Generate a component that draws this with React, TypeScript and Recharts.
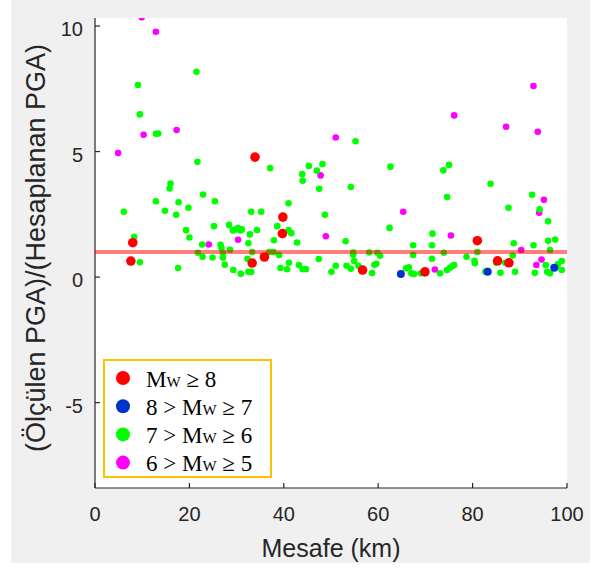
import React from 'react';
import { ScatterChart, Scatter, XAxis, YAxis, CartesianGrid, ReferenceLine } from 'recharts';

// mesafe (km), oran
const mw8: [number, number][] = [
  [7.6, 0.64], [8.0, 1.37], [33.9, 4.78], [33.3, 0.56], [35.9, 0.8], [39.8, 2.39],
  [39.7, 1.73], [56.7, 0.28], [69.9, 0.21], [81.0, 1.45], [85.3, 0.65], [87.7, 0.57],
];

const mw7: [number, number][] = [
  [64.8, 0.12], [83.2, 0.21], [97.3, 0.37],
];

const mw6: [number, number][] = [
  [21.5, 8.18], [9.1, 7.65], [9.5, 6.48], [12.9, 5.71], [13.4, 5.72], [21.7, 4.59],
  [37.1, 4.34], [45.3, 4.43], [48.2, 4.5], [47.0, 4.24], [43.9, 4.1], [44.0, 3.84],
  [47.5, 3.52], [16.0, 3.73], [15.8, 3.53], [22.9, 3.29], [12.9, 3.02], [17.7, 2.98],
  [25.4, 3.02], [41.0, 2.94], [19.8, 2.76], [6.1, 2.6], [14.8, 2.64], [17.2, 2.48],
  [33.1, 2.6], [35.2, 2.6], [48.7, 2.48], [19.3, 1.87], [20.0, 1.58], [8.3, 1.61],
  [9.5, 0.59], [17.6, 0.36], [25.2, 2.03], [28.4, 2.08], [29.2, 1.86], [29.8, 1.9],
  [30.3, 1.95], [30.8, 1.86], [31.1, 1.9], [32.8, 1.7], [34.3, 1.87], [38.6, 2.03],
  [41.0, 1.87], [41.6, 1.75], [32.5, 1.35], [37.9, 1.47], [42.8, 1.38], [22.7, 1.3],
  [26.6, 1.29], [26.8, 1.16], [28.6, 1.09], [21.8, 0.97], [22.8, 0.81], [24.9, 0.78],
  [27.1, 0.97], [27.1, 0.78], [33.3, 1.0], [36.9, 1.0], [37.8, 1.0], [39.0, 0.88],
  [47.4, 0.72], [32.3, 0.73], [27.5, 0.49], [29.3, 0.28], [30.9, 0.13], [32.5, 0.21],
  [33.1, 0.21], [39.3, 0.36], [40.7, 0.31], [41.1, 0.57], [43.2, 0.48], [44.0, 0.31],
  [44.7, 0.31], [50.1, 0.21], [51.0, 0.45],
  [55.2, 5.41], [54.2, 3.59], [62.6, 4.4], [62.4, 1.96], [53.1, 1.43], [54.7, 0.98],
  [54.7, 0.89], [58.1, 0.98], [59.8, 0.97], [60.4, 0.85], [53.3, 0.45], [54.2, 0.33],
  [54.9, 0.64], [55.8, 0.45], [58.7, 0.16], [59.2, 0.49], [59.6, 0.53], [67.4, 1.27],
  [67.4, 0.88], [65.9, 0.35], [66.5, 0.39], [67.0, 0.15], [67.6, 0.12], [69.0, 0.15],
  [71.4, 0.73], [71.4, 1.27], [71.5, 1.73], [73.1, 0.15], [73.9, 0.97], [73.8, 4.25],
  [75.0, 4.47], [74.6, 3.19], [74.6, 0.28], [75.2, 0.37], [75.7, 0.44], [76.1, 0.48],
  [78.7, 0.81], [80.4, 0.65], [80.5, 0.55], [81.0, 1.0], [82.7, 0.21], [83.1, 0.25],
  [83.8, 3.72], [85.0, 0.57], [85.9, 0.17], [87.6, 2.76], [86.9, 0.57], [88.5, 0.86],
  [88.7, 1.35], [89.0, 0.21], [92.6, 3.28], [94.2, 2.7], [96.0, 2.22], [92.9, 1.27],
  [96.0, 1.45], [97.5, 1.5], [96.4, 1.08], [93.2, 0.17], [95.5, 0.48], [95.8, 0.21],
  [96.4, 0.15], [98.1, 0.52], [98.9, 0.64], [98.9, 0.28], [97.8, 0.41],
];

const mw5: [number, number][] = [
  [9.9, 10.35], [12.9, 9.77], [10.3, 5.67], [17.3, 5.86], [4.9, 4.94], [51.0, 5.56],
  [47.8, 4.05], [30.3, 1.49], [24.1, 1.3], [48.9, 1.63], [65.3, 2.6], [72.0, 0.3],
  [75.4, 1.66], [76.1, 6.44], [87.1, 5.99], [90.3, 1.08], [92.9, 7.61], [93.8, 5.79],
  [95.1, 3.08], [94.1, 2.56], [94.6, 0.7], [93.5, 0.48],
];

const xTicks = [0, 20, 40, 60, 80, 100];
const yTicks = [-5, 0, 5, 10];

const legendItems = [
  { color: '#ff0000', pre: '', post: ' ≥ 8' },
  { color: '#0033cc', pre: '8 > ', post: ' ≥ 7' },
  { color: '#00ff00', pre: '7 > ', post: ' ≥ 6' },
  { color: '#ff00ff', pre: '6 > ', post: ' ≥ 5' },
];

const toPoints = (arr: [number, number][]) => arr.map(([d, r]) => ({ d, r }));

const axisColor = '#262626';
const sans = "'Liberation Sans', Arial, sans-serif";

const dot = (color: string, r: number) => (p: any) => (
  <circle cx={p.cx} cy={p.cy} r={r} fill={color} />
);

const XTick = ({ x, y, payload }: any) => (
  <g>
    <line x1={x} x2={x} y1={y} y2={y - 5} stroke={axisColor} strokeWidth={1.2} />
    <text x={x} y={y + 33} textAnchor="middle" fill={axisColor} fontSize={20} fontFamily={sans}>
      {payload.value}
    </text>
  </g>
);

const YTick = ({ x, y, payload }: any) => (
  <g>
    <line x1={x} x2={x + 5} y1={y} y2={y} stroke={axisColor} strokeWidth={1.2} />
    <text x={x - 12} y={y + 10} textAnchor="end" fill={axisColor} fontSize={20} fontFamily={sans}>
      {payload.value}
    </text>
  </g>
);

export default function App() {
  return (
    <div style={{ position: 'absolute', left: 0, top: 0, width: 596, height: 568, background: '#fff' }}>
      <div style={{ position: 'absolute', left: 11, top: 0, width: 579, height: 563, background: '#f0f0f0' }} />
      <div style={{ position: 'absolute', left: 0, top: 0 }}>
        <ScatterChart width={596} height={568} margin={{ top: 18, right: 29, bottom: 40, left: 35 }}>
          <CartesianGrid horizontal={false} vertical={false} fill="#ffffff" />
          <XAxis
            dataKey="d"
            type="number"
            domain={[0, 100]}
            ticks={xTicks}
            allowDataOverflow
            height={40}
            tickSize={0}
            tickMargin={0}
            tick={<XTick />}
            axisLine={{ stroke: axisColor, strokeWidth: 1.2 }}
            tickLine={false}
            label={{
              content: ({ viewBox }: any) => (
                <text
                  x={viewBox.x + viewBox.width / 2}
                  y={557}
                  textAnchor="middle"
                  fill={axisColor}
                  fontSize={25}
                  fontFamily={sans}
                >
                  Mesafe (km)
                </text>
              ),
            }}
          />
          <YAxis
            dataKey="r"
            type="number"
            domain={[-8.4, 10.32]}
            ticks={yTicks}
            allowDataOverflow
            width={60}
            tickSize={0}
            tickMargin={0}
            tick={<YTick />}
            axisLine={{ stroke: axisColor, strokeWidth: 1.2 }}
            tickLine={false}
            label={{
              content: () => (
                <text
                  x={45}
                  y={248}
                  transform="rotate(-90, 45, 248)"
                  textAnchor="middle"
                  fill={axisColor}
                  fontSize={27}
                  fontFamily={sans}
                >
                  (Ölçülen PGA)/(Hesaplanan PGA)
                </text>
              ),
            }}
          />
          <Scatter data={toPoints(mw5)} shape={dot('#ff00ff', 3.3)} isAnimationActive={false} />
          <Scatter data={toPoints(mw6)} shape={dot('#00ff00', 3.3)} isAnimationActive={false} />
          <Scatter data={toPoints(mw7)} shape={dot('#0033cc', 4)} isAnimationActive={false} />
          <Scatter data={toPoints(mw8)} shape={dot('#ff0000', 4.8)} isAnimationActive={false} />
          <ReferenceLine y={1} stroke="#ff0000" strokeOpacity={0.5} strokeWidth={4} zIndex={1000} />
        </ScatterChart>
      </div>
      {/* lejant */}
      <div
        style={{
          position: 'absolute',
          left: 103,
          top: 359,
          width: 169,
          height: 119,
          boxSizing: 'border-box',
          border: '2px solid #ffc000',
          background: '#fff',
        }}
      >
        <svg width={165} height={115} style={{ display: 'block' }}>
          {legendItems.map((it, i) => {
            const cy = 17 + i * 28.2;
            return (
              <g key={i}>
                <circle cx={18} cy={cy} r={7} fill={it.color} />
                <text x={41} y={cy + 8.5} fontSize={23} fontFamily="'Liberation Serif', 'Times New Roman', serif" fill="#000">
                  {it.pre}M<tspan fontSize={15}>W</tspan>
                  {it.post}
                </text>
              </g>
            );
          })}
        </svg>
      </div>
    </div>
  );
}
